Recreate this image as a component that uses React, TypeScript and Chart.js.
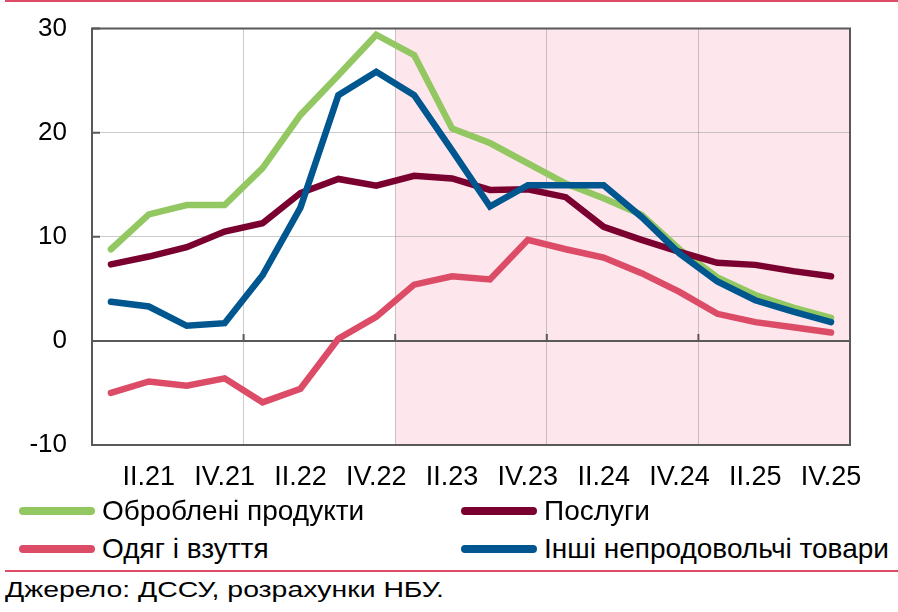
import { useEffect, useRef } from "react";
import { Chart, registerables } from "chart.js";

Chart.register(...registerables);

const quarters = [
  "I.21", "II.21", "III.21", "IV.21",
  "I.22", "II.22", "III.22", "IV.22",
  "I.23", "II.23", "III.23", "IV.23",
  "I.24", "II.24", "III.24", "IV.24",
  "I.25", "II.25", "III.25", "IV.25",
];

const processedFood = [8.8, 12.15, 13.05, 13.05, 16.6, 21.7, 25.5, 29.4, 27.45, 20.4, 19.0, 17.05, 15.1, 13.7, 12.1, 8.8, 6.1, 4.4, 3.2, 2.2];
const services = [7.35, 8.1, 9.0, 10.5, 11.3, 14.2, 15.55, 14.9, 15.85, 15.6, 14.5, 14.55, 13.8, 10.95, 9.7, 8.55, 7.5, 7.3, 6.7, 6.2];
const clothing = [-5.0, -3.9, -4.3, -3.6, -5.9, -4.6, 0.2, 2.3, 5.4, 6.2, 5.9, 9.7, 8.8, 8.0, 6.5, 4.7, 2.6, 1.8, 1.3, 0.8];
const otherNonFood = [3.75, 3.3, 1.45, 1.7, 6.3, 12.8, 23.6, 25.85, 23.6, 18.3, 12.9, 14.95, 14.95, 14.95, 11.9, 8.4, 5.7, 3.9, 2.8, 1.8];

const seriesNames = ["Оброблені продукти", "Послуги", "Одяг і взуття", "Інші непродовольчі товари"];
const seriesColors = ["#92c762", "#7a0030", "#dc4c67", "#00568f"];

// shaded period starts here
const shadeFrom = "I.23";

const FONT = "'Liberation Sans', Arial, sans-serif";
const AXIS = "#595959";
const RED_RULE = "#dc4c67";

const framePlugin = {
  id: "frame",
  beforeDraw(chart: Chart) {
    const { ctx, chartArea, scales } = chart;
    const x = scales.x;
    const i = quarters.indexOf(shadeFrom);
    const left = (x.getPixelForValue(i - 1) + x.getPixelForValue(i)) / 2;
    ctx.save();
    ctx.fillStyle = "#fde6ec";
    ctx.fillRect(left, chartArea.top, chartArea.right - left, chartArea.bottom - chartArea.top);
    ctx.restore();
  },
  beforeDatasetsDraw(chart: Chart) {
    const { ctx, chartArea, scales } = chart;
    const x = scales.x;
    const y = scales.y;
    ctx.save();
    ctx.strokeStyle = AXIS;
    ctx.lineWidth = 2;
    ctx.strokeRect(chartArea.left, chartArea.top, chartArea.right - chartArea.left, chartArea.bottom - chartArea.top);
    // zero line with year ticks
    const y0 = y.getPixelForValue(0);
    ctx.beginPath();
    ctx.moveTo(chartArea.left, y0);
    ctx.lineTo(chartArea.right, y0);
    for (let k = 4; k < quarters.length; k += 4) {
      const px = (x.getPixelForValue(k - 1) + x.getPixelForValue(k)) / 2;
      ctx.moveTo(px, y0);
      ctx.lineTo(px, y0 - 7);
    }
    // inner y ticks
    for (const t of y.ticks) {
      const py = y.getPixelForValue(t.value);
      ctx.moveTo(chartArea.left, py);
      ctx.lineTo(chartArea.left + 8, py);
    }
    ctx.stroke();
    ctx.restore();
  },
};

function InflationChart() {
  const canvasRef = useRef<HTMLCanvasElement | null>(null);
  const chartRef = useRef<Chart | null>(null);

  useEffect(() => {
    const canvas = canvasRef.current;
    if (!canvas) return;

    if (chartRef.current) {
      chartRef.current.destroy();
      chartRef.current = null;
    }

    const values = [processedFood, services, clothing, otherNonFood];
    // blue drawn above the green, as in the source
    const order = [4, 3, 2, 1];
    const datasets = values.map((data, k) => ({
      label: seriesNames[k],
      data,
      order: order[k],
      borderColor: seriesColors[k],
      backgroundColor: seriesColors[k],
      borderWidth: 6.5,
      pointRadius: 0,
      tension: 0,
      borderCapStyle: "round" as const,
      borderJoinStyle: "miter" as const,
    }));

    chartRef.current = new Chart(canvas, {
      type: "line",
      data: { labels: quarters, datasets },
      options: {
        responsive: false,
        animation: false,
        layout: { padding: { top: 28.5, right: 48, left: 0, bottom: 0 } },
        plugins: {
          legend: { display: false },
          tooltip: { enabled: false },
        },
        scales: {
          x: {
            type: "category",
            offset: true,
            grid: {
              offset: true,
              drawTicks: false,
              color: (c: any) => (c.index % 4 === 0 ? "rgba(140,140,140,0.45)" : "rgba(0,0,0,0)"),
              lineWidth: 1,
            },
            border: { display: false },
            ticks: {
              autoSkip: false,
              maxRotation: 0,
              padding: 16,
              color: "#000",
              font: { family: FONT, size: 27 },
              callback: (_v: any, i: number) => (i % 2 === 1 ? quarters[i] : ""),
            },
            afterFit: (s: any) => {
              s.height = 55;
            },
          },
          y: {
            min: -10,
            max: 30,
            grid: { drawTicks: false, color: "rgba(140,140,140,0.45)", lineWidth: 1 },
            border: { display: false },
            ticks: {
              stepSize: 10,
              padding: 25,
              color: "#000",
              font: { family: FONT, size: 26 },
            },
            afterFit: (s: any) => {
              s.width = 92;
              // the tick padding would otherwise push the plot top down
              s.paddingTop = 0;
              s.paddingBottom = 0;
            },
          },
        },
      },
      plugins: [framePlugin],
    });

    return () => {
      if (chartRef.current) {
        chartRef.current.destroy();
        chartRef.current = null;
      }
    };
  }, []);

  return <canvas ref={canvasRef} width={898} height={500} style={{ display: "block" }} />;
}

function LegendItem({ k, left, top }: { k: number; left: number; top: number }) {
  return (
    <div style={{ position: "absolute", left, top, display: "flex", alignItems: "center", height: 30 }}>
      <span
        style={{
          display: "inline-block",
          width: 76,
          height: 8,
          borderRadius: 4,
          background: seriesColors[k],
          marginRight: 7,
        }}
      />
      <span style={{ fontSize: 28, color: "#000", whiteSpace: "nowrap" }}>{seriesNames[k]}</span>
    </div>
  );
}

export default function App() {
  return (
    <div
      style={{
        position: "absolute",
        left: 0,
        top: 0,
        width: 898,
        height: 612,
        background: "#fff",
        fontFamily: FONT,
        overflow: "hidden",
      }}
    >
      <div style={{ position: "absolute", left: 5, right: 0, top: 0, height: 2, background: RED_RULE }} />
      <div style={{ position: "absolute", left: 0, top: 0 }}>
        <InflationChart />
      </div>
      <LegendItem k={0} left={19} top={496} />
      <LegendItem k={1} left={461} top={496} />
      <LegendItem k={2} left={19} top={534} />
      <LegendItem k={3} left={461} top={534} />
      <div style={{ position: "absolute", left: 5, right: 0, top: 570, height: 2, background: RED_RULE }} />
      <div
        style={{
          position: "absolute",
          left: 5,
          top: 577,
          fontSize: 22,
          color: "#000",
          whiteSpace: "nowrap",
          transform: "scaleX(1.29)",
          transformOrigin: "left center",
        }}
      >
        Джерело: ДССУ, розрахунки НБУ.
      </div>
    </div>
  );
}
